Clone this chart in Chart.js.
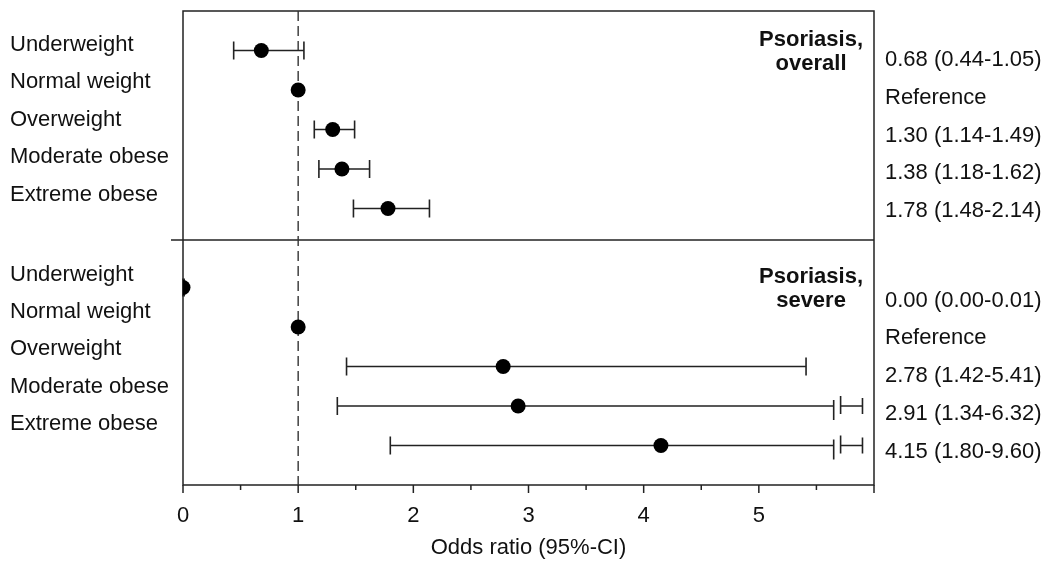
<!DOCTYPE html>
<html>
<head>
<meta charset="utf-8">
<script src="https://cdn.jsdelivr.net/npm/chart.js@4.4.1/dist/chart.umd.min.js"></script>
<style>
    html, body { margin: 0; padding: 0; background: #fff; }
    #wrap { width: 1050px; height: 571px; position: relative; }
</style>
</head>
<body>
<div id="wrap"><canvas id="forest"></canvas></div>
<script>
// categories and values
const categories = ['Underweight', 'Normal weight', 'Overweight', 'Moderate obese', 'Extreme obese'];
const overallOR = [0.68, 1.00, 1.30, 1.38, 1.78];
const overallLow = [0.44, null, 1.14, 1.18, 1.48];
const overallHigh = [1.05, null, 1.49, 1.62, 2.14];
const severeOR = [0.00, 1.00, 2.78, 2.91, 4.15];
const severeLow = [0.00, null, 1.42, 1.34, 1.80];
const severeHigh = [0.01, null, 5.41, 6.32, 9.60];
const panelTitles = [['Psoriasis,', 'overall'], ['Psoriasis,', 'severe']];
const xTickLabels = [0, 1, 2, 3, 4, 5];
const xTitle = 'Odds ratio (95%-CI)';

const FONT = '"Liberation Sans", Arial, Helvetica, sans-serif';
const FSIZE = 22;
const INK = '#111';
const LINE = '#222';

// row index on the y scale: overall panel 0..4, severe panel 6..10
const panels = [
    { or: overallOR, lo: overallLow, hi: overallHigh, rowStart: 0, title: panelTitles[0] },
    { or: severeOR, lo: severeLow, hi: severeHigh, rowStart: 6, title: panelTitles[1] }
];

function fmt(v) {
    return v.toFixed(2);
}

function ciText(or, lo, hi) {
    if (lo === null || hi === null) {
        return 'Reference';
    }
    return `${fmt(or)} (${fmt(lo)}-${fmt(hi)})`;
}

const datasets = panels.map(function (p) {
    return {
        data: p.or.map(function (v, i) {
            return { x: v, y: p.rowStart + i };
        }),
        backgroundColor: '#000',
        borderColor: '#000',
        pointRadius: 7.5,
        pointHoverRadius: 7.5,
        borderWidth: 0
    };
});

const forestPlugin = {
    id: 'forest',
    beforeDatasetsDraw(chart) {
        const ctx = chart.ctx;
        const xs = chart.scales.x;
        const ys = chart.scales.y;
        const area = chart.chartArea;

        ctx.save();
        ctx.strokeStyle = LINE;
        ctx.lineWidth = 1.5;

        // frame
        ctx.beginPath();
        ctx.moveTo(area.left, area.top);
        ctx.lineTo(area.right, area.top);
        ctx.lineTo(area.right, area.bottom);
        ctx.lineTo(area.left, area.bottom);
        ctx.closePath();
        ctx.stroke();

        // panel separator
        const sepY = ys.getPixelForValue(4.8);
        ctx.beginPath();
        ctx.moveTo(area.left - 12, sepY);
        ctx.lineTo(area.right, sepY);
        ctx.stroke();

        // tick marks, major at integers, minor at halves
        for (let v = xs.min; v <= xs.max + 0.001; v += 0.5) {
            const px = xs.getPixelForValue(v);
            const len = Number.isInteger(v) ? 8 : 5;
            ctx.beginPath();
            ctx.moveTo(px, area.bottom);
            ctx.lineTo(px, area.bottom + len);
            ctx.stroke();
        }

        // reference line at OR = 1
        const refX = xs.getPixelForValue(1);
        ctx.setLineDash([10, 5]);
        ctx.lineWidth = 1.4;
        ctx.strokeStyle = '#333';
        ctx.beginPath();
        ctx.moveTo(refX, area.top);
        ctx.lineTo(refX, area.bottom);
        ctx.stroke();
        ctx.setLineDash([]);

        // confidence intervals
        const breakAt = 5.65;
        const resumeAt = 5.71;
        const capAt = 5.9;
        ctx.strokeStyle = LINE;
        ctx.lineWidth = 1.6;
        panels.forEach(function (p) {
            p.or.forEach(function (v, i) {
                if (p.lo[i] === null) {
                    return;
                }
                const y = ys.getPixelForValue(p.rowStart + i);
                const x0 = xs.getPixelForValue(p.lo[i]);
                const broken = p.hi[i] > xs.max;
                const x1 = xs.getPixelForValue(broken ? breakAt : p.hi[i]);
                ctx.beginPath();
                ctx.moveTo(x0, y);
                ctx.lineTo(x1, y);
                ctx.moveTo(x0, y - 9);
                ctx.lineTo(x0, y + 9);
                if (broken) {
                    const xr = xs.getPixelForValue(resumeAt);
                    const xc = xs.getPixelForValue(capAt);
                    ctx.moveTo(x1, y - 6);
                    ctx.lineTo(x1, y + 14);
                    ctx.moveTo(xr, y - 10);
                    ctx.lineTo(xr, y + 8);
                    ctx.moveTo(xr, y);
                    ctx.lineTo(xc, y);
                    ctx.moveTo(xc, y - 8);
                    ctx.lineTo(xc, y + 8);
                } else {
                    ctx.moveTo(x1, y - 9);
                    ctx.lineTo(x1, y + 9);
                }
                ctx.stroke();
            });
        });

        // category labels (left) and estimates (right)
        ctx.fillStyle = INK;
        ctx.font = `${FSIZE}px ${FONT}`;
        ctx.textBaseline = 'middle';
        const leftStart = [-0.14, 5.67];
        const rightStart = [0.24, 6.33];
        panels.forEach(function (p, k) {
            categories.forEach(function (c, i) {
                ctx.textAlign = 'left';
                ctx.fillText(c, 10, ys.getPixelForValue(leftStart[k] + i * 0.947));
                ctx.fillText(ciText(p.or[i], p.lo[i], p.hi[i]), area.right + 11,
                    ys.getPixelForValue(rightStart[k] + i * 0.957));
            });

            // panel title, block right aligned, lines centred
            ctx.font = `bold ${FSIZE}px ${FONT}`;
            const w = Math.max.apply(null, p.title.map(function (t) {
                return ctx.measureText(t).width;
            }));
            const cx = area.right - 11 - w / 2;
            const ty = ys.getPixelForValue(p.rowStart - 0.27);
            ctx.textAlign = 'center';
            p.title.forEach(function (t, j) {
                ctx.fillText(t, cx, ty + j * 24);
            });
            ctx.font = `${FSIZE}px ${FONT}`;
        });

        ctx.restore();
    }
};

new Chart(document.getElementById('forest'), {
    type: 'scatter',
    data: { datasets: datasets },
    options: {
        responsive: true,
        maintainAspectRatio: false,
        animation: false,
        events: [],
        layout: { padding: { left: 183, right: 176, top: 11, bottom: 0 } },
        plugins: {
            legend: { display: false },
            tooltip: { enabled: false }
        },
        scales: {
            x: {
                type: 'linear',
                min: 0,
                max: 6,
                afterFit: function (scale) {
                    scale.height = 86;
                },
                grid: { drawOnChartArea: false, color: 'rgba(0,0,0,0)', tickLength: 8 },
                border: { display: false },
                ticks: {
                    stepSize: 1,
                    padding: 10,
                    color: INK,
                    font: { family: FONT, size: FSIZE },
                    callback: function (v) {
                        return xTickLabels.includes(v) ? String(v) : '';
                    }
                },
                title: {
                    display: true,
                    text: xTitle,
                    color: INK,
                    font: { family: FONT, size: FSIZE },
                    padding: { top: 0, bottom: 10 }
                }
            },
            y: {
                type: 'linear',
                display: false,
                reverse: true,
                min: -1,
                max: 11
            }
        }
    },
    plugins: [forestPlugin]
});
</script>
</body>
</html>
